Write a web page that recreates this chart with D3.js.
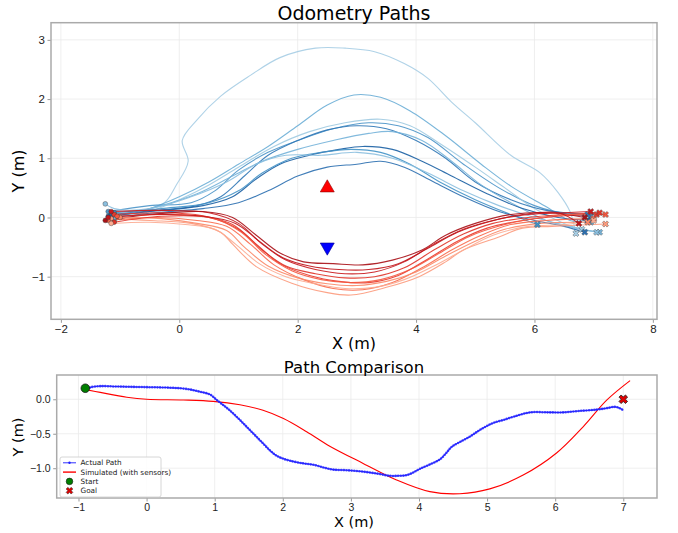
<!DOCTYPE html>
<html lang="en">
<head>
<meta charset="utf-8">
<title>Odometry Paths</title>
<script src="https://d3js.org/d3.v7.min.js"></script>
<style>
  body { margin: 0; background: #fff; }
  svg { font-family: "DejaVu Sans", sans-serif; }
  .grid line { stroke: #ebebeb; stroke-width: 0.8; }
  .axis path { display: none; }
  .axis line { stroke: #999; }
  .axis text { fill: #222; }
</style>
</head>
<body>
<div id="chart"></div>
<script>
// ---- data: odometry runs (x, y in metres) ----
let blue_1 = [[-1.1,0.05],[-0.6,0.12],[-0.25,0.25],[-0.05,0.55],[0.15,0.95],[0.05,1.3],[0.3,1.65],[0.7,2.05],[1.2,2.4],[1.7,2.7],[2.3,2.86],[2.8,2.86],[3.3,2.8],[3.8,2.6],[4.2,2.35],[4.6,1.95],[5.0,1.6],[5.6,1.05],[6.1,0.75],[6.4,0.42],[6.6,0.1],[6.7,-0.27]]
let blue_2 = [[-1.15,0.0],[-0.5,0.15],[0,0.35],[0.5,0.6],[1.0,0.9],[1.5,1.2],[2.0,1.55],[2.5,1.9],[2.95,2.07],[3.4,2.03],[3.9,1.8],[4.5,1.38],[5.1,0.9],[5.6,0.53],[6.2,0.18],[6.6,-0.05],[6.95,-0.08]]
let blue_3 = [[-1.2,0.1],[-0.5,0.2],[0.2,0.25],[0.6,0.45],[1.0,0.8],[1.5,1.1],[2.0,1.3],[2.6,1.5],[3.2,1.6],[3.7,1.55],[4.2,1.35],[4.8,0.9],[5.4,0.5],[6.0,0.2],[6.6,0.05],[6.95,0.02]]
let blue_4 = [[-1.1,-0.05],[-0.5,0.1],[0,0.3],[0.5,0.55],[1.0,0.85],[1.6,1.2],[2.2,1.45],[2.8,1.6],[3.4,1.66],[3.9,1.55],[4.4,1.25],[5.0,0.85],[5.5,0.5],[6.0,0.15],[6.5,-0.1],[6.8,-0.2]]
let blue_5 = [[-1.15,0.05],[-0.4,0.12],[0.3,0.2],[0.7,0.35],[1.1,0.7],[1.5,1.05],[2.0,1.3],[2.5,1.48],[3.0,1.55],[3.5,1.5],[4.0,1.3],[4.5,1.0],[5.0,0.6],[5.6,0.3],[6.2,0.12],[6.9,0.05]]
let blue_6 = [[-1.1,0.0],[-0.3,0.2],[0.3,0.4],[0.9,0.7],[1.4,0.95],[2.0,1.15],[2.6,1.3],[3.2,1.42],[3.6,1.45],[4.1,1.3],[4.6,0.95],[5.1,0.55],[5.6,0.25],[6.2,-0.05],[6.7,-0.18],[7.1,-0.25]]
let blue_7 = [[-1.2,0.02],[-0.5,0.1],[0.4,0.2],[0.9,0.35],[1.3,0.65],[1.7,0.9],[2.2,1.05],[2.7,1.15],[3.1,1.2],[3.6,1.15],[4.1,0.95],[4.6,0.7],[5.2,0.4],[5.8,0.15],[6.4,0.0],[6.9,-0.05]]
let blue_8 = [[-1.1,0.08],[-0.3,0.15],[0.5,0.25],[1.0,0.45],[1.4,0.75],[1.9,1.0],[2.4,1.1],[2.9,1.15],[3.4,1.1],[3.9,0.9],[4.4,0.6],[5.0,0.3],[5.6,0.05],[6.05,-0.12]]
let blue_9 = [[-1.15,0.0],[-0.4,0.08],[0.4,0.15],[1.0,0.25],[1.5,0.45],[2.0,0.7],[2.5,0.85],[3.0,0.9],[3.4,0.95],[3.8,0.85],[4.3,0.6],[4.8,0.35],[5.4,0.1],[6.0,-0.05],[6.5,-0.15],[6.85,-0.25]]
let blue_10 = [[-1.25,0.23],[-1.1,0.15],[-0.5,0.15],[0.2,0.35],[0.8,0.6],[1.3,0.9],[1.8,1.05],[2.4,1.05],[3.0,1.1],[3.6,1.0],[4.2,0.75],[4.8,0.45],[5.4,0.2],[6.0,0.0],[6.6,-0.15],[7.05,-0.25]]

let red_1 = [[-1.15,-0.02],[-0.5,-0.05],[0.2,-0.1],[0.7,-0.25],[0.9,-0.45],[1.3,-0.83],[1.9,-1.11],[2.5,-1.27],[2.9,-1.31],[3.5,-1.18],[4.05,-1.0],[4.5,-0.75],[4.8,-0.55],[5.4,-0.33],[5.8,-0.18],[6.3,-0.15],[7.2,-0.11]]
let red_2 = [[-1.2,-0.05],[-0.4,0.0],[0.3,-0.05],[0.8,-0.15],[1.2,-0.45],[1.6,-0.8],[2.1,-1.05],[2.6,-1.2],[3.1,-1.22],[3.6,-1.1],[4.1,-0.85],[4.6,-0.55],[5.1,-0.3],[5.6,-0.12],[6.2,-0.05],[7.0,-0.02]]
let red_3 = [[-1.1,0.05],[-0.3,0.08],[0.4,0.03],[0.9,-0.12],[1.3,-0.45],[1.7,-0.78],[2.2,-0.98],[2.7,-1.08],[3.2,-1.1],[3.7,-0.98],[4.2,-0.7],[4.7,-0.4],[5.2,-0.18],[5.8,-0.05],[6.4,0.02],[7.05,0.05]]
let red_4 = [[-1.15,0.1],[-0.3,0.12],[0.5,0.08],[1.0,-0.1],[1.4,-0.45],[1.8,-0.72],[2.3,-0.88],[2.8,-0.95],[3.3,-0.92],[3.8,-0.75],[4.3,-0.45],[4.8,-0.2],[5.3,-0.05],[5.9,0.05],[6.5,0.08],[6.95,0.1]]
let red_5 = [[-1.25,-0.05],[-0.5,0.05],[0.4,0.1],[0.9,0.0],[1.3,-0.3],[1.7,-0.6],[2.1,-0.75],[2.6,-0.78],[3.1,-0.8],[3.6,-0.72],[4.1,-0.55],[4.5,-0.3],[5.0,-0.1],[5.6,0.05],[6.3,0.08],[6.85,0.0]]
let red_6 = [[-1.0,0.0],[-0.3,-0.02],[0.3,-0.1],[0.8,-0.22],[1.1,-0.5],[1.5,-0.82],[2.0,-1.02],[2.5,-1.12],[3.0,-1.15],[3.5,-1.08],[4.0,-0.92],[4.5,-0.65],[5.0,-0.4],[5.5,-0.2],[6.1,-0.1],[6.9,-0.08]]
let red_7 = [[-1.1,-0.08],[-0.3,0.02],[0.5,0.0],[1.0,-0.2],[1.4,-0.55],[1.8,-0.82],[2.3,-0.95],[2.8,-1.02],[3.3,-1.0],[3.8,-0.85],[4.3,-0.55],[4.8,-0.28],[5.3,-0.1],[5.9,0.0],[6.5,0.05],[7.1,0.08]]
let red_8 = [[-1.05,0.02],[-0.2,0.05],[0.6,-0.02],[1.05,-0.25],[1.45,-0.62],[1.9,-0.9],[2.4,-1.05],[2.9,-1.1],[3.4,-1.05],[3.9,-0.88],[4.4,-0.6],[4.9,-0.32],[5.5,-0.12],[6.1,0.0],[6.6,0.05],[7.2,0.05]]
let red_9 = [[-1.2,0.0],[-0.4,0.05],[0.4,0.02],[0.95,-0.1],[1.35,-0.4],[1.75,-0.68],[2.2,-0.82],[2.7,-0.88],[3.2,-0.88],[3.7,-0.78],[4.2,-0.52],[4.7,-0.25],[5.2,-0.08],[5.8,0.05],[6.4,0.08],[6.75,-0.1]]
let red_10 = [[-1.15,-0.1],[-0.5,-0.08],[0.1,-0.12],[0.6,-0.2],[0.95,-0.45],[1.35,-0.78],[1.8,-1.0],[2.3,-1.12],[2.8,-1.2],[3.3,-1.18],[3.8,-1.05],[4.3,-0.82],[4.8,-0.55],[5.3,-0.3],[5.9,-0.15],[6.5,-0.12],[7.0,-0.05]]

let blue_runs = [blue_1, blue_2, blue_3, blue_4, blue_5, blue_6, blue_7, blue_8, blue_9, blue_10]
let red_runs = [red_1, red_2, red_3, red_4, red_5, red_6, red_7, red_8, red_9, red_10]
let blue_colors = ["#a6cde4", "#6baed6", "#4a93c8", "#9ecae1", "#2f77b6", "#74b3d9", "#1a5fa3", "#4292c6", "#2b6fb0", "#8bbfdf"]
let red_colors = ["#fc9a7c", "#f8694b", "#e8392c", "#c9181d", "#a91016", "#fb8868", "#e03328", "#f4563e", "#c0151b", "#fcab91"]

// obstacle markers
let obstacle_up = [2.5, 0.5]
let obstacle_down = [2.5, -0.5]

// ---- data: path comparison ----
let actual_path = [[-0.89,0.12],[-0.83,0.17],[-0.68,0.19],[-0.45,0.185],[-0.2,0.18],[0.05,0.175],[0.29,0.17],[0.49,0.16],[0.65,0.14],[0.78,0.11],[0.93,0.07],[1.03,-0.01],[1.12,-0.08],[1.22,-0.16],[1.35,-0.28],[1.47,-0.4],[1.59,-0.52],[1.71,-0.64],[1.82,-0.75],[1.91,-0.82],[2.0,-0.86],[2.1,-0.89],[2.3,-0.93],[2.45,-0.95],[2.6,-0.99],[2.74,-1.02],[2.95,-1.03],[3.18,-1.05],[3.4,-1.08],[3.57,-1.11],[3.7,-1.11],[3.82,-1.1],[3.92,-1.06],[4.01,-1.01],[4.15,-0.95],[4.31,-0.87],[4.4,-0.78],[4.48,-0.69],[4.6,-0.62],[4.75,-0.54],[4.87,-0.46],[4.99,-0.39],[5.1,-0.34],[5.24,-0.3],[5.4,-0.25],[5.63,-0.19],[5.9,-0.19],[6.12,-0.19],[6.35,-0.17],[6.61,-0.15],[6.75,-0.13],[6.88,-0.11],[6.95,-0.13],[7.0,-0.16]]
let simulated_path = [[-0.89,0.14],[-0.68,0.1],[-0.29,0.03],[0,0.0],[0.54,-0.01],[0.98,-0.03],[1.37,-0.08],[1.71,-0.16],[2.01,-0.28],[2.35,-0.47],[2.69,-0.68],[3.18,-0.93],[3.67,-1.17],[4.16,-1.34],[4.6,-1.37],[5.04,-1.3],[5.53,-1.1],[6.02,-0.78],[6.41,-0.4],[6.76,-0.01],[7.1,0.27]]
let start_point = [-0.9, 0.16]
let goal_point = [7.0, 0.0]

let top_xticks = [-2, 0, 2, 4, 6, 8]
let top_yticks = [-1, 0, 1, 2, 3]
let bot_xticks = [-1, 0, 1, 2, 3, 4, 5, 6, 7]
let bot_yticks = [0.0, -0.5, -1.0]
let legend_labels = ["Actual Path", "Simulated (with sensors)", "Start", "Goal"]

// ---- drawing ----
var W = 678, H = 533
var svg = d3.select("#chart").append("svg").attr("width", W).attr("height", H)

var fmtMinus = s => String(s).replace("-", "\u2212")
// filled "X" marker = a plus rotated by 45 degrees
var plusShape = d3.symbol().type(d3.symbolCross)

function frame(g, box) {
    g.append("rect")
        .attr("x", box.left).attr("y", box.top)
        .attr("width", box.right - box.left).attr("height", box.bottom - box.top)
        .attr("fill", "none").attr("stroke", "#aaa").attr("stroke-width", 1.5)
}

function makeAxes(box, xdom, ydom, xticks, yticks, xfmt, yfmt, fs) {
    var x = d3.scaleLinear().domain(xdom).range([box.left, box.right])
    var y = d3.scaleLinear().domain(ydom).range([box.bottom, box.top])
    var g = svg.append("g")
    // grid
    var grid = g.append("g").attr("class", "grid")
    grid.selectAll(".gx").data(xticks).enter().append("line")
        .attr("x1", d => x(d)).attr("x2", d => x(d)).attr("y1", box.top).attr("y2", box.bottom)
    grid.selectAll(".gy").data(yticks).enter().append("line")
        .attr("y1", d => y(d)).attr("y2", d => y(d)).attr("x1", box.left).attr("x2", box.right)
    g.append("g").attr("class", "axis")
        .attr("transform", "translate(0," + box.bottom + ")")
        .call(d3.axisBottom(x).tickValues(xticks).tickSize(3.5).tickPadding(2.5).tickFormat(xfmt))
        .selectAll("text").style("font-size", fs + "px")
    g.append("g").attr("class", "axis")
        .attr("transform", "translate(" + box.left + ",0)")
        .call(d3.axisLeft(y).tickValues(yticks).tickSize(3.5).tickPadding(2.5).tickFormat(yfmt))
        .selectAll("text").style("font-size", fs + "px")
    return { x: x, y: y, g: g }
}

// ===== Top: Odometry Paths =====
var topBox = { left: 51, right: 657, top: 22.7, bottom: 319.3 }
var A = makeAxes(topBox, [-2.167, 8.07], [-1.72, 3.29], top_xticks, top_yticks,
    d => fmtMinus(d), d => fmtMinus(d), 11.5)

var topLine = d3.line().x(d => A.x(d[0])).y(d => A.y(d[1])).curve(d3.curveCatmullRom.alpha(0.5))
var plot = A.g.append("g")

function drawRuns(runs, colors) {
    runs.forEach((run, i) => {
        plot.append("path").attr("d", topLine(run))
            .attr("fill", "none").attr("stroke", colors[i])
            .attr("stroke-width", 1.1).attr("stroke-opacity", 0.9)
    })
}
drawRuns(blue_runs, blue_colors)
drawRuns(red_runs, red_colors)

function drawEnds(runs, colors) {
    runs.forEach((run, i) => {
        var s = run[0], e = run[run.length - 1]
        plot.append("circle").attr("cx", A.x(s[0])).attr("cy", A.y(s[1])).attr("r", 2.4)
            .attr("fill", colors[i]).attr("stroke", "#333").attr("stroke-width", 0.4)
        plot.append("path").attr("d", plusShape.size(24)())
            .attr("transform", "translate(" + A.x(e[0]) + "," + A.y(e[1]) + ") rotate(45)")
            .attr("fill", colors[i]).attr("stroke", "#444").attr("stroke-width", 0.4)
    })
}
drawEnds(blue_runs, blue_colors)
drawEnds(red_runs, red_colors)

var tri = d3.symbol().type(d3.symbolTriangle).size(85)
plot.append("path").attr("d", tri())
    .attr("transform", "translate(" + A.x(obstacle_up[0]) + "," + A.y(obstacle_up[1]) + ")")
    .attr("fill", "#ff0000").attr("stroke", "#8b0000").attr("stroke-width", 0.6)
plot.append("path").attr("d", tri())
    .attr("transform", "translate(" + A.x(obstacle_down[0]) + "," + A.y(obstacle_down[1]) + ") rotate(180)")
    .attr("fill", "#0000ff").attr("stroke", "#00008b").attr("stroke-width", 0.6)

frame(A.g, topBox)

svg.append("text").attr("x", 354).attr("y", 20).attr("text-anchor", "middle")
    .style("font-size", "19px").text("Odometry Paths")
svg.append("text").attr("x", 354).attr("y", 349).attr("text-anchor", "middle")
    .style("font-size", "16px").text("X (m)")
svg.append("text").attr("transform", "translate(24,171) rotate(-90)").attr("text-anchor", "middle")
    .style("font-size", "16px").text("Y (m)")

// ===== Bottom: Path Comparison =====
var botBox = { left: 56.7, right: 657, top: 375, bottom: 498 }
var B = makeAxes(botBox, [-1.32, 7.495], [-1.432, 0.352], bot_xticks, bot_yticks,
    d => fmtMinus(d), d => fmtMinus(d3.format(".1f")(d)), 10.5)

var botLine = d3.line().x(d => B.x(d[0])).y(d => B.y(d[1])).curve(d3.curveCatmullRom.alpha(0.5))
var bplot = B.g.append("g")

bplot.append("path").attr("d", botLine(simulated_path))
    .attr("fill", "none").attr("stroke", "#ff0000").attr("stroke-width", 1.1)
// actual path: thin line plus dot markers along it
bplot.append("path").attr("d", botLine(actual_path))
    .attr("fill", "none").attr("stroke", "#3030ff").attr("stroke-width", 1.1)
bplot.append("path").attr("d", botLine(actual_path))
    .attr("fill", "none").attr("stroke", "#2020ff").attr("stroke-width", 2.6)
    .attr("stroke-linecap", "round").attr("stroke-dasharray", "0 2.6").attr("stroke-opacity", 0.8)

bplot.append("circle").attr("cx", B.x(start_point[0])).attr("cy", B.y(start_point[1])).attr("r", 4.3)
    .attr("fill", "#007f00").attr("stroke", "#1a1a1a").attr("stroke-width", 0.8)
bplot.append("path").attr("d", plusShape.size(46)())
    .attr("transform", "translate(" + B.x(goal_point[0]) + "," + B.y(goal_point[1]) + ") rotate(45)")
    .attr("fill", "#e00000").attr("stroke", "#222").attr("stroke-width", 0.8)

frame(B.g, botBox)

// legend
var lg = svg.append("g").attr("transform", "translate(60,457)")
lg.append("rect").attr("width", 101).attr("height", 40).attr("rx", 2)
    .attr("fill", "#fff").attr("fill-opacity", 0.85).attr("stroke", "#ccc").attr("stroke-width", 0.8)
legend_labels.forEach((t, i) => {
    var cy = 5.8 + i * 9.3
    var row = lg.append("g").attr("transform", "translate(0," + cy + ")")
    if (i == 0) {
        row.append("line").attr("x1", 3).attr("x2", 16).attr("stroke", "#3030ff").attr("stroke-width", 1)
        row.append("circle").attr("cx", 9.5).attr("r", 1.2).attr("fill", "#2020ff")
    } else if (i == 1) {
        row.append("line").attr("x1", 3).attr("x2", 16).attr("stroke", "#ff0000").attr("stroke-width", 1.4)
    } else if (i == 2) {
        row.append("circle").attr("cx", 9.5).attr("r", 3.3).attr("fill", "#007f00").attr("stroke", "#1a1a1a").attr("stroke-width", 0.6)
    } else {
        row.append("path").attr("d", plusShape.size(28)()).attr("transform", "translate(9.5,0) rotate(45)")
            .attr("fill", "#e00000").attr("stroke", "#222").attr("stroke-width", 0.5)
    }
    row.append("text").attr("x", 20.5).attr("y", 2.6).style("font-size", "7.3px").attr("fill", "#222").text(t)
})

svg.append("text").attr("x", 354).attr("y", 373).attr("text-anchor", "middle")
    .style("font-size", "16.5px").text("Path Comparison")
svg.append("text").attr("x", 354).attr("y", 527).attr("text-anchor", "middle")
    .style("font-size", "14.5px").text("X (m)")
svg.append("text").attr("transform", "translate(23,437) rotate(-90)").attr("text-anchor", "middle")
    .style("font-size", "14.5px").text("Y (m)")
</script>
</body>
</html>
